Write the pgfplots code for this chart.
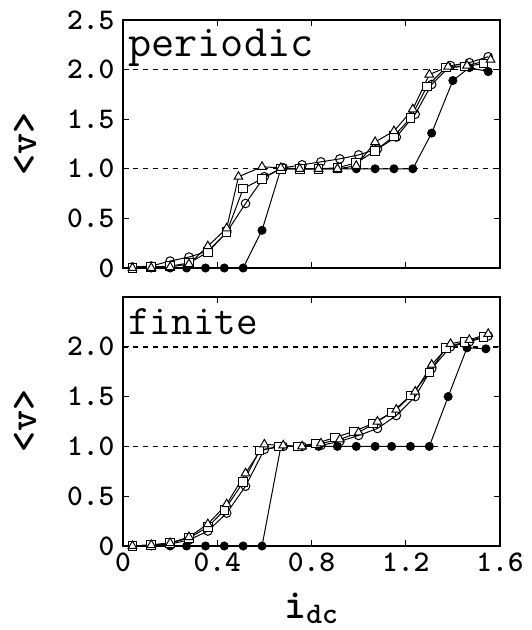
\documentclass[border=0pt]{standalone}
\usepackage{pgfplots}
\pgfplotsset{compat=1.18}

\pgfplotstableread{
x y
0.04 0.00
0.12 0.00
0.20 0.00
0.27 0.00
0.35 0.00
0.43 0.00
0.51 0.00
0.59 0.38
0.67 1.00
0.75 1.00
0.83 1.00
0.91 1.00
0.99 1.00
1.07 1.00
1.15 1.00
1.23 1.00
1.31 1.36
1.40 1.89
1.47 2.02
1.55 1.98
}\perfilled

\pgfplotstableread{
x y
0.04 0.01
0.12 0.02
0.20 0.07
0.28 0.11
0.36 0.17
0.44 0.36
0.52 0.65
0.60 0.92
0.68 1.01
0.76 1.04
0.84 1.07
0.92 1.10
1.00 1.14
1.08 1.20
1.16 1.32
1.24 1.55
1.31 1.85
1.39 2.04
1.47 2.07
1.55 2.13
}\percirc

\pgfplotstableread{
x y
0.04 0.00
0.12 0.01
0.20 0.02
0.28 0.05
0.36 0.16
0.44 0.36
0.51 0.80
0.59 0.90
0.67 1.00
0.75 1.00
0.83 1.00
0.91 1.01
0.99 1.06
1.07 1.18
1.15 1.33
1.22 1.51
1.29 1.83
1.37 2.02
1.45 2.03
1.53 2.06
}\persq

\pgfplotstableread{
x y
0.04 0.00
0.12 0.00
0.20 0.01
0.28 0.04
0.36 0.22
0.44 0.40
0.49 0.92
0.59 1.02
0.67 1.01
0.75 1.00
0.83 1.00
0.91 1.00
0.99 1.03
1.07 1.27
1.15 1.38
1.23 1.60
1.30 1.95
1.38 2.03
1.46 2.04
1.56 2.10
}\pertri

\pgfplotstableread{
x y
0.04 0.00
0.12 0.00
0.20 0.00
0.27 0.00
0.35 0.00
0.43 0.00
0.51 0.00
0.59 0.00
0.67 1.00
0.75 1.00
0.83 1.00
0.91 1.00
0.99 1.00
1.07 1.00
1.14 1.00
1.22 1.00
1.30 1.00
1.38 1.50
1.46 1.99
1.54 1.98
}\finfilled

\pgfplotstableread{
x y
0.04 0.00
0.12 0.01
0.20 0.02
0.28 0.06
0.36 0.15
0.44 0.33
0.52 0.60
0.60 0.97
0.68 1.00
0.76 1.00
0.84 1.01
0.92 1.05
1.00 1.11
1.08 1.18
1.16 1.31
1.24 1.50
1.31 1.78
1.39 2.00
1.47 2.05
1.55 2.11
}\fincirc

\pgfplotstableread{
x y
0.04 0.00
0.12 0.01
0.20 0.03
0.28 0.08
0.36 0.19
0.43 0.36
0.51 0.64
0.58 0.96
0.66 1.00
0.74 1.00
0.82 1.03
0.90 1.09
0.98 1.15
1.06 1.23
1.14 1.34
1.22 1.51
1.30 1.74
1.37 1.99
1.45 2.05
1.53 2.10
}\finsq

\pgfplotstableread{
x y
0.04 0.00
0.12 0.01
0.20 0.03
0.28 0.09
0.36 0.22
0.44 0.42
0.52 0.73
0.60 1.02
0.68 1.01
0.76 1.00
0.84 1.03
0.92 1.07
1.00 1.14
1.08 1.25
1.16 1.37
1.24 1.55
1.31 1.82
1.39 2.03
1.47 2.07
1.55 2.13
}\fintri

\pgfplotsset{
  panel/.style={
    width=377pt, scale only axis,
    anchor=south west,
    xmin=0, xmax=1.6, ymin=0, ymax=2.5,
    xtick={0,0.4,0.8,1.2,1.6},
    ytick={0,0.5,1,1.5,2,2.5},
    axis line style={line width=1.5pt},
    major tick length=6pt,
    tick style={line width=1pt, black},
    ticklabel style={font=\fontsize{30}{30}\selectfont\ttfamily\bfseries},
    yticklabel style={xshift=-5pt},
    xticklabel style={yshift=-3pt},
    /pgf/number format/assume math mode=true,
  },
  dline/.style={line width=1.4pt, dash pattern=on 5pt off 5pt, forget plot},
  ser/.style={line width=1pt, black, mark size=4.3pt, mark options={solid, line width=1pt, fill=white}},
}

\begin{document}
\begin{tikzpicture}[x=1pt,y=1pt]
\useasboundingbox (0,0) rectangle (531,630);

% periodic
\begin{axis}[panel, at={(123pt,362pt)}, height=248pt,
  xticklabels={},
  yticklabels={0,0.5,1.0,1.5,2.0,2.5}]
\addplot [dline] coordinates {(0,1) (1.6,1)};
\addplot [dline] coordinates {(0,2) (1.6,2)};
\addplot [ser, mark=*, mark size=4pt, mark options={fill=black}] table {\perfilled};
\addplot [ser, mark=o] table {\percirc};
\addplot [ser, mark=square*] table {\persq};
\addplot [ser, mark=triangle*, mark size=5pt] table {\pertri};
\end{axis}

% finite
\begin{axis}[panel, at={(123pt,84pt)}, height=249pt,
  xticklabels={0,0.4,0.8,1.2,1.6},
  yticklabels={0,0.5,1.0,1.5,2.0,{}}]
\addplot [dline] coordinates {(0,1) (1.6,1)};
\addplot [dline] coordinates {(0,2) (1.6,2)};
\addplot [ser, mark=*, mark size=4pt, mark options={fill=black}] table {\finfilled};
\addplot [ser, mark=o] table {\fincirc};
\addplot [ser, mark=square*] table {\finsq};
\addplot [ser, mark=triangle*, mark size=5pt] table {\fintri};
\end{axis}

\node [anchor=base west, inner sep=0, font=\fontsize{45}{45}\selectfont\ttfamily] at (128,573) {periodic};
\node [anchor=base west, inner sep=0, font=\fontsize{42}{42}\selectfont\ttfamily] at (128,295) {finite};
\node [rotate=90, inner sep=0, font=\fontsize{40}{40}\selectfont\ttfamily\bfseries] at (25,486) {<v>};
\node [rotate=90, inner sep=0, font=\fontsize{40}{40}\selectfont\ttfamily\bfseries] at (25,209) {<v>};
\node [anchor=base, inner sep=0, font=\ttfamily\bfseries] at (311,12)
  {\fontsize{42}{42}\selectfont i\raisebox{-5pt}{\fontsize{30}{30}\selectfont dc}};
\end{tikzpicture}
\end{document}
